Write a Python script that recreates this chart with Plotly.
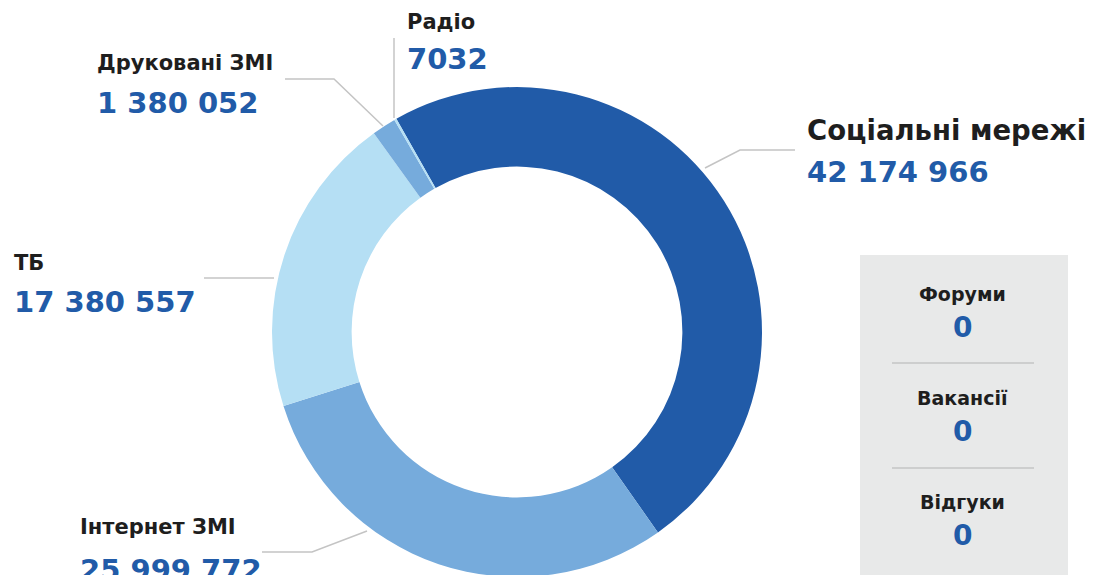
import plotly.graph_objects as go

# ---- data ----
categories = ["Соціальні мережі", "Інтернет ЗМІ", "ТБ", "Друковані ЗМІ", "Радіо"]
values = [42174966, 25999772, 17380557, 1380052, 7032]
colors = ["#215BA8", "#76ABDC", "#B5DFF4", "#76ABDC", "#B5DFF4"]

side_labels = ["Форуми", "Вакансії", "Відгуки"]
side_values = [0, 0, 0]

W, H = 1100, 575
OFF = 8  # page body offset
total = sum(values)
# minimum visible slice so tiny categories remain visible
display_values = [max(v, total * 0.0015) for v in values]


def fmt(v):
    return f"{v:,}".replace(",", " ") if v >= 10000 else str(v)


def px(x):
    return (x - OFF) / W


def py(y):
    return 1 - (y - OFF) / H


fig = go.Figure()
fig.add_trace(go.Pie(
    labels=categories,
    values=display_values,
    customdata=values,
    sort=False,
    direction="clockwise",
    rotation=-29.5,
    hole=0.675,
    marker=dict(colors=colors, line=dict(width=0)),
    textinfo="none",
    hovertemplate="%{label}: %{customdata}<extra></extra>",
    showlegend=False,
    domain=dict(x=[px(272), px(762)], y=[max(0, py(577)), py(87)]),
))

DARK = "#1E1E1E"
BLUE = "#215BA8"
FONT = "DejaVu Sans"

# label placement (pixel positions): (label y, value y, x, label size)
placements = {
    "Соціальні мережі": (130, 172, 805, 27.5),
    "Інтернет ЗМІ": (527, 570, 78, 21),
    "ТБ": (263, 302, 12, 21),
    "Друковані ЗМІ": (63, 103, 95, 21),
    "Радіо": (22, 59, 405, 21),
}

annotations = []
for cat, val in zip(categories, values):
    ly, vy, x, ls = placements[cat]
    annotations.append(dict(x=px(x), y=py(ly), xref="paper", yref="paper",
                            text=f"<b>{cat}</b>", showarrow=False, xanchor="left",
                            yanchor="middle", font=dict(family=FONT, size=ls, color=DARK)))
    annotations.append(dict(x=px(x), y=py(vy), xref="paper", yref="paper",
                            text=f"<b>{fmt(val)}</b>", showarrow=False, xanchor="left",
                            yanchor="middle", font=dict(family=FONT, size=29, color=BLUE)))

# side box
side_ys = [(294, 327), (398, 431), (502, 535)]
for (lab, val), (ly, vy) in zip(zip(side_labels, side_values), side_ys):
    annotations.append(dict(x=px(962), y=py(ly), xref="paper", yref="paper",
                            text=f"<b>{lab}</b>", showarrow=False, xanchor="center",
                            yanchor="middle", font=dict(family=FONT, size=19, color=DARK)))
    annotations.append(dict(x=px(962), y=py(vy), xref="paper", yref="paper",
                            text=f"<b>{val}</b>", showarrow=False, xanchor="center",
                            yanchor="middle", font=dict(family=FONT, size=28, color=BLUE)))

LINE = dict(color="#C4C4C4", width=1.5)
shapes = [
    dict(type="rect", xref="paper", yref="paper", x0=px(860), x1=px(1068), y0=py(255), y1=0,
         fillcolor="#E8E9E9", line=dict(width=0), layer="below"),
    dict(type="line", xref="paper", yref="paper", x0=px(892), x1=px(1034), y0=py(363), y1=py(363), line=LINE),
    dict(type="line", xref="paper", yref="paper", x0=px(892), x1=px(1034), y0=py(468), y1=py(468), line=LINE),
]

leaders = [
    [(705, 168), (740, 150), (795, 150)],
    [(285, 79), (334, 79), (383, 126)],
    [(394, 38), (394, 118)],
    [(204, 278), (274, 278)],
    [(262, 552), (312, 552), (367, 531)],
]
for pts in leaders:
    path = "M " + " L ".join(f"{px(x)} {py(y)}" for x, y in pts)
    shapes.append(dict(type="path", xref="paper", yref="paper", path=path, line=LINE))

fig.update_layout(
    width=W, height=H,
    margin=dict(l=0, r=0, t=0, b=0),
    paper_bgcolor="white",
    plot_bgcolor="white",
    annotations=annotations,
    shapes=shapes,
)

fig.write_html("out.html")
